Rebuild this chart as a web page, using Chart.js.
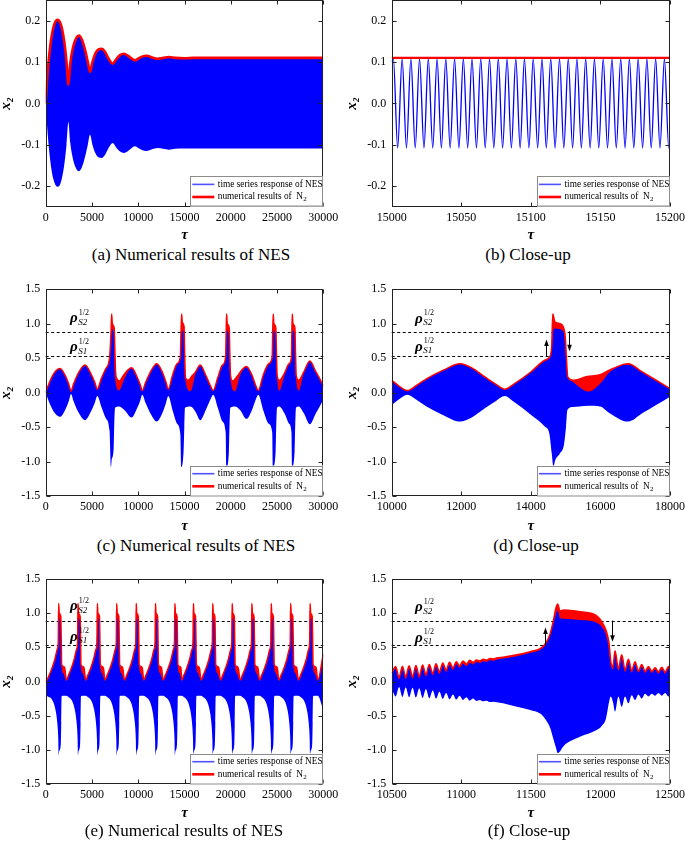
<!DOCTYPE html>
<html lang="en">
<head>
<meta charset="UTF-8">
<title>Numerical results of NES</title>
<script src="https://cdn.jsdelivr.net/npm/chart.js"></script>
<style>
  body { margin: 0; background: #fff; }
  .page { position: relative; width: 685px; height: 843px; overflow: hidden; font-family: "Liberation Serif", "Times New Roman", serif; }
  .panel { position: absolute; }
  .panel canvas { display: block; }
  .caption { position: absolute; font-size: 17px; color: #000; white-space: nowrap; transform: translate(-50%, -50%); }
</style>
</head>
<body>
<div class="page">
  <div class="panel" style="left:0;top:0"><canvas id="chartA" width="340" height="245"></canvas></div>
  <div class="panel" style="left:340px;top:0"><canvas id="chartB" width="345" height="245"></canvas></div>
  <div class="panel" style="left:0;top:280px"><canvas id="chartC" width="340" height="256"></canvas></div>
  <div class="panel" style="left:340px;top:280px"><canvas id="chartD" width="345" height="256"></canvas></div>
  <div class="panel" style="left:0;top:570px"><canvas id="chartE" width="340" height="253"></canvas></div>
  <div class="panel" style="left:340px;top:570px"><canvas id="chartF" width="345" height="253"></canvas></div>

  <div class="caption" style="left:191px;top:255px">(a) Numerical results of NES</div>
  <div class="caption" style="left:528px;top:255px">(b) Close-up</div>
  <div class="caption" style="left:196px;top:546px">(c) Numerical results of NES</div>
  <div class="caption" style="left:536px;top:546px">(d) Close-up</div>
  <div class="caption" style="left:184px;top:831px">(e) Numerical results of NES</div>
  <div class="caption" style="left:529px;top:831px">(f) Close-up</div>
</div>

<script>
// ---------- tick labels ----------
const xTicksLong = [0, 5000, 10000, 15000, 20000, 25000, 30000];
const xTicksB = [15000, 15050, 15100, 15150, 15200];
const xTicksD = [10000, 12000, 14000, 16000, 18000];
const xTicksF = [10500, 11000, 11500, 12000, 12500];
const yTicksSmall = [-0.2, -0.1, 0, 0.1, 0.2];
const yTicksLarge = [-1.5, -1.0, -0.5, 0, 0.5, 1.0, 1.5];

// dashed levels rho_S2^(1/2), rho_S1^(1/2)
const rhoLevels = [0.88, 0.53];

// ---------- (a) envelope of the response, 0..30000 ----------
const aTau = [0, 200, 500, 850, 1260, 1650, 2000, 2250, 2450, 2650, 2950, 3300, 3600, 3950, 4300, 4550, 4790, 5050, 5400, 5750,
  6050, 6400, 6800, 7240, 7600, 8000, 8460, 8900, 9300, 9650, 10000, 10400, 10910, 11500, 12060, 12700, 13320, 14000, 15000, 16000, 30000];
const aTop = [0, 0.07, 0.14, 0.185, 0.202, 0.19, 0.15, 0.10, 0.045, 0.095, 0.135, 0.158, 0.164, 0.152, 0.125, 0.10, 0.076, 0.10, 0.122, 0.131,
  0.132, 0.125, 0.108, 0.096, 0.106, 0.116, 0.12, 0.115, 0.108, 0.104, 0.108, 0.113, 0.115, 0.111, 0.108, 0.11, 0.112, 0.11, 0.109, 0.11, 0.11];
const aBottom = [0, -0.07, -0.14, -0.185, -0.202, -0.19, -0.15, -0.10, -0.045, -0.095, -0.135, -0.158, -0.164, -0.152, -0.125, -0.10, -0.076, -0.10, -0.122, -0.131,
  -0.132, -0.125, -0.108, -0.096, -0.106, -0.116, -0.12, -0.115, -0.108, -0.104, -0.108, -0.113, -0.115, -0.111, -0.108, -0.11, -0.112, -0.11, -0.109, -0.109, -0.109];

// ---------- (b) close-up, turning points of the oscillation ----------
const bPeakTau = [15001.2, 15007.5, 15013.8, 15020.0, 15026.3, 15032.6, 15038.9, 15045.2, 15051.5, 15057.7, 15064.0, 15070.3, 15076.6, 15082.9, 15089.2, 15095.4,
  15101.7, 15108.0, 15114.3, 15120.6, 15126.9, 15133.1, 15139.4, 15145.7, 15152.0, 15158.3, 15164.6, 15170.8, 15177.1, 15183.4, 15189.7, 15196.0];
const bTroughTau = [15004.3, 15010.6, 15016.9, 15023.2, 15029.5, 15035.7, 15042.0, 15048.3, 15054.6, 15060.9, 15067.2, 15073.4, 15079.7, 15086.0, 15092.3, 15098.6,
  15104.9, 15111.1, 15117.4, 15123.7, 15130.0, 15136.3, 15142.6, 15148.8, 15155.1, 15161.4, 15167.7, 15174.0, 15180.3, 15186.5, 15192.8, 15199.1];
const bAmp = 0.108;
const bEdges = [[15000, 0.10], [15200, -0.106]];
const bN2 = [[15000, 0.11], [15200, 0.11]];

// ---------- (c) 0..30000 ----------
const cTau = [0, 500, 1000, 1550, 2100, 2500, 2740, 3000, 3600, 4250, 4900, 5300, 5580,
  6000, 6500, 6900, 7050, 7130, 7350, 7420, 7500, 7920, 8500, 9290,
  9900, 10200, 10440, 10800, 11400, 12000, 12600, 13000, 13250, 13700, 14200,
  14550, 14650, 14900, 14980, 15050, 15650, 16200, 16700, 17300, 17800, 18100,
  18600, 19100, 19450, 19530, 19800, 19870, 19950, 20450, 21000, 21700, 22300, 22700, 22970,
  23500, 24100, 24480, 24560, 24850, 24920, 25000, 25250, 25800, 26300, 26560, 26620, 26900, 26970, 27050, 27350,
  27900, 28550, 29200, 29700, 30000];
const cHi = [0, 0.18, 0.30, 0.35, 0.25, 0.12, 0.02, 0.12, 0.30, 0.40, 0.27, 0.15, 0.05,
  0.20, 0.35, 0.50, 0.80, 0.92, 0.88, 0.50, 0.20, 0.03, 0.20, 0.36,
  0.22, 0.12, 0.03, 0.15, 0.32, 0.42, 0.30, 0.15, 0.05, 0.25, 0.42,
  0.52, 0.90, 0.88, 0.50, 0.22, 0.02, 0.28, 0.40, 0.25, 0.10, 0.03,
  0.22, 0.40, 0.52, 0.90, 0.86, 0.50, 0.22, 0.02, 0.25, 0.38, 0.25, 0.10, 0.03,
  0.25, 0.42, 0.52, 0.90, 0.86, 0.50, 0.22, 0.03, 0.25, 0.42, 0.52, 0.90, 0.86, 0.50, 0.22, 0.03,
  0.30, 0.46, 0.30, 0.18, 0.10];
const cLo = [0, -0.18, -0.30, -0.35, -0.25, -0.12, -0.02, -0.12, -0.30, -0.40, -0.27, -0.15, -0.05,
  -0.20, -0.37, -0.55, -1.08, -0.98, -0.80, -0.40, -0.22, -0.20, -0.25, -0.36,
  -0.22, -0.12, -0.03, -0.15, -0.32, -0.42, -0.30, -0.15, -0.05, -0.25, -0.45,
  -0.60, -1.08, -0.85, -0.50, -0.22, -0.20, -0.28, -0.40, -0.25, -0.10, -0.03,
  -0.22, -0.42, -0.58, -1.08, -0.85, -0.45, -0.22, -0.20, -0.25, -0.38, -0.25, -0.10, -0.03,
  -0.25, -0.45, -0.58, -1.08, -0.85, -0.45, -0.22, -0.20, -0.30, -0.45, -0.58, -1.08, -0.85, -0.45, -0.22, -0.20,
  -0.30, -0.46, -0.30, -0.18, -0.10];
const cRedTau = [0, 500, 1000, 1550, 2100, 2500, 2740, 3000, 3600, 4250, 4900, 5300, 5580,
  6000, 6500, 6900, 7050, 7130, 7200, 7400, 7480, 7550, 7700, 7950, 8400, 8900, 9290,
  9900, 10200, 10440, 10800, 11400, 12000, 12600, 13000, 13250, 13700, 14200,
  14550, 14620, 14690, 14760, 14950, 15030, 15100, 15400, 15800, 16200, 16700, 17300, 17800, 18100,
  18600, 19100, 19450, 19500, 19550, 19620, 19830, 19900, 19970, 20200, 20700, 21200, 21700, 22300, 22700, 22970,
  23500, 24100, 24480, 24530, 24590, 24660, 24870, 24940, 25010, 25250, 25800,
  26300, 26560, 26600, 26650, 26720, 26930, 27000, 27070, 27350, 27900, 28550, 29200, 29700, 30000];
const cRed = [0, 0.18, 0.30, 0.35, 0.25, 0.12, 0.02, 0.12, 0.30, 0.40, 0.27, 0.15, 0.05,
  0.20, 0.35, 0.50, 0.85, 1.14, 1.00, 0.94, 0.60, 0.30, 0.20, 0.17, 0.25, 0.33, 0.36,
  0.22, 0.12, 0.03, 0.15, 0.32, 0.42, 0.30, 0.15, 0.05, 0.25, 0.42,
  0.52, 0.85, 1.14, 1.02, 0.96, 0.50, 0.22, 0.18, 0.24, 0.30, 0.40, 0.25, 0.10, 0.03,
  0.22, 0.40, 0.52, 0.85, 1.14, 1.00, 0.94, 0.55, 0.25, 0.17, 0.24, 0.33, 0.38, 0.25, 0.10, 0.03,
  0.25, 0.42, 0.52, 0.85, 1.14, 1.00, 0.94, 0.55, 0.25, 0.18, 0.28,
  0.42, 0.52, 0.85, 1.14, 1.00, 0.94, 0.55, 0.25, 0.18, 0.30, 0.46, 0.30, 0.18, 0.10];
const cRho = [[2630, 1.02, 'S2'], [2630, 0.60, 'S1']];

// ---------- (d) close-up 10000..18000 ----------
const dTau = [10000, 10200, 10450, 10700, 11000, 11500, 11964, 12300, 12700, 13000, 13250, 13500, 14000, 14400, 14530, 14600,
  14650, 14700, 14840, 14950, 15010, 15050, 15200, 15400, 15650, 15990, 16270, 16660, 16800, 17200, 17600, 18000];
const dHi = [0.18, 0.10, 0.03, 0.10, 0.20, 0.33, 0.42, 0.36, 0.22, 0.12, 0.05, 0.12, 0.30, 0.46, 0.51, 0.67,
  0.91, 0.93, 0.92, 0.86, 0.52, 0.26, 0.16, 0.08, 0.015, 0.13, 0.30, 0.40, 0.41, 0.30, 0.18, 0.06];
const dLo = [-0.18, -0.10, -0.03, -0.10, -0.20, -0.33, -0.42, -0.36, -0.22, -0.12, -0.05, -0.13, -0.32, -0.49, -0.59, -0.88,
  -1.07, -0.98, -0.88, -0.76, -0.50, -0.25, -0.21, -0.20, -0.19, -0.20, -0.30, -0.41, -0.42, -0.30, -0.18, -0.06];
const dRedTau = [10000, 10200, 10450, 10700, 11000, 11500, 11964, 12300, 12700, 13000, 13250, 13500, 14000, 14400, 14530, 14600,
  14630, 14690, 14840, 14950, 14990, 15030, 15060, 15220, 15600, 15990, 16270, 16660, 16800, 17200, 17600, 18000];
const dRed = [0.18, 0.10, 0.03, 0.10, 0.20, 0.33, 0.42, 0.36, 0.22, 0.12, 0.05, 0.12, 0.30, 0.47, 0.51, 0.67,
  1.14, 1.03, 1.00, 0.93, 0.80, 0.43, 0.23, 0.18, 0.23, 0.26, 0.33, 0.41, 0.42, 0.30, 0.18, 0.06];
const dRho = [[10670, 1.016, 'S2'], [10670, 0.605, 'S1']];
const dArrows = [[14436, 0.53, 0.77], [15106, 0.89, 0.60]];

// ---------- (e) 0..30000, repeated jumps ----------
const eSpikeTau = [1400, 3490, 5580, 7670, 9780, 11860, 13960, 15960, 18050, 20150, 22280, 24370, 26470, 28570];
// one jump, offsets relative to the jump
const eOffset = [-1260, -1000, -700, -400, -150, -40, 0, 60, 230, 280, 320, 500, 650];
const eRedShape = [0.02, 0.10, 0.20, 0.33, 0.47, 0.58, 1.14, 1.00, 0.95, 0.60, 0.25, 0.22, 0.20];
const eHiShape = [0.02, 0.10, 0.20, 0.33, 0.47, 0.58, 0.92, 0.92, 0.90, 0.45, 0.20, 0.12, 0.07];
const eLoShape = [-0.21, -0.23, -0.27, -0.38, -0.60, -0.85, -1.08, -1.02, -0.92, -0.60, -0.22, -0.21, -0.21];
const eStart = [0, 0, 0, 0];                       // tau, red, hi, lo
const eEnd = [[29400, 0.02, 0.02, -0.21], [30000, 0.40, 0.40, -0.42]];
const eRho = [[2630, 1.046, 'S2'], [2630, 0.60, 'S1']];

// ---------- (f) close-up 10500..12500 ----------
const fTau = [10500,
  10528, 10553, 10577, 10601, 10625, 10650, 10674, 10698, 10722, 10746,
  10770, 10795, 10819, 10843, 10867, 10891, 10916, 10940, 10964, 10988,
  11012, 11037, 11061, 11085, 11109, 11133, 11158, 11182, 11206, 11230,
  11254,
  11300, 11400, 11495, 11567, 11603, 11639, 11663, 11682, 11693, 11710,
  11733, 11853, 11973, 12009, 12040, 12062, 12074, 12090,
  12105, 12129, 12153, 12177, 12201, 12225, 12249, 12273, 12297, 12321,
  12345, 12369, 12393, 12417, 12441, 12465, 12489, 12500];
const fRed = [0.12,
  0.22, 0.06, 0.225, 0.065, 0.23, 0.07, 0.235, 0.08, 0.24, 0.10,
  0.25, 0.12, 0.26, 0.14, 0.27, 0.17, 0.28, 0.20, 0.29, 0.23,
  0.30, 0.255, 0.31, 0.28, 0.315, 0.30, 0.325, 0.315, 0.335, 0.33,
  0.345,
  0.355, 0.39, 0.436, 0.48, 0.55, 0.70, 0.90, 1.09, 1.134, 1.03,
  1.045, 1.02, 0.96, 0.875, 0.75, 0.56, 0.30, 0.22,
  0.45, 0.19, 0.39, 0.17, 0.325, 0.16, 0.29, 0.155, 0.25, 0.15,
  0.22, 0.15, 0.20, 0.14, 0.21, 0.14, 0.22, 0.20];
const fHi = [0.09,
  0.185, 0.03, 0.19, 0.035, 0.195, 0.04, 0.20, 0.05, 0.205, 0.07,
  0.215, 0.09, 0.225, 0.11, 0.235, 0.14, 0.245, 0.17, 0.255, 0.20,
  0.265, 0.225, 0.275, 0.25, 0.285, 0.27, 0.295, 0.29, 0.31, 0.305,
  0.32,
  0.335, 0.37, 0.42, 0.465, 0.53, 0.68, 0.87, 1.00, 1.04, 0.93,
  0.92, 0.90, 0.86, 0.80, 0.68, 0.46, 0.25, 0.18,
  0.40, 0.16, 0.35, 0.14, 0.29, 0.13, 0.26, 0.13, 0.22, 0.125,
  0.19, 0.125, 0.175, 0.115, 0.18, 0.115, 0.19, 0.17];
const fLo = [-0.10,
  -0.22, -0.08, -0.225, -0.085, -0.23, -0.09, -0.235, -0.10, -0.24, -0.11,
  -0.245, -0.13, -0.25, -0.15, -0.255, -0.17, -0.26, -0.19, -0.265, -0.21,
  -0.27, -0.23, -0.28, -0.25, -0.285, -0.27, -0.29, -0.28, -0.30, -0.295,
  -0.305,
  -0.32, -0.37, -0.417, -0.47, -0.55, -0.68, -0.85, -0.98, -1.05, -1.02,
  -0.95, -0.81, -0.71, -0.65, -0.54, -0.30, -0.22, -0.30,
  -0.44, -0.22, -0.37, -0.22, -0.32, -0.20, -0.27, -0.19, -0.25, -0.18,
  -0.22, -0.18, -0.21, -0.17, -0.21, -0.17, -0.22, -0.20];
const fRho = [[10668, 1.03, 'S2'], [10668, 0.58, 'S1']];
const fArrows = [[11600, 0.53, 0.79], [12086, 0.89, 0.58]];

const NES_LABEL = 'time series response of NES';
const N2_LABEL = 'numerical results of  N₂';

// ---------- helpers ----------
const SERIF = '"Liberation Serif", "Times New Roman", serif';
const BLUE = '#0000ff';
const RED = '#ff0000';

function pts(xs, ys) {
  return xs.map((x, i) => ({ x: x, y: ys[i] }));
}

function spikeTrain(col) {
  // col: 0 red, 1 hi, 2 lo
  const shape = [eRedShape, eHiShape, eLoShape][col];
  const out = [{ x: eStart[0], y: eStart[col + 1] }];
  eSpikeTau.forEach(s => eOffset.forEach((o, i) => out.push({ x: s + o, y: shape[i] })));
  eEnd.forEach(r => out.push({ x: r[0], y: r[col + 1] }));
  return out;
}

function envelopeSets(hi, lo, red, redWidth) {
  return [
    { label: NES_LABEL, data: hi, borderColor: 'rgba(0,0,255,0)', borderWidth: 1, backgroundColor: BLUE, fill: '+1' },
    { data: lo, borderColor: 'rgba(0,0,255,0)', borderWidth: 1, fill: false },
    { label: N2_LABEL, data: red, borderColor: RED, borderWidth: redWidth, backgroundColor: RED, fill: 'origin' }
  ];
}

// text with sub/superscript for the rho labels
function drawRho(ctx, x, y, sub) {
  ctx.fillStyle = '#000';
  ctx.textAlign = 'left';
  ctx.textBaseline = 'alphabetic';
  ctx.font = 'italic bold 15px ' + SERIF;
  ctx.fillText('ρ', x, y);
  const w = ctx.measureText('ρ').width;
  ctx.font = 'italic 9px ' + SERIF;
  ctx.fillText(sub, x + w + 0.5, y + 2.5);
  ctx.font = '8px ' + SERIF;
  ctx.fillText('1/2', x + w + 1, y - 7.5);
}

function drawArrow(ctx, x, y1, y2) {
  const dir = y2 > y1 ? 1 : -1;
  ctx.strokeStyle = '#000';
  ctx.fillStyle = '#000';
  ctx.lineWidth = 1;
  ctx.beginPath();
  ctx.moveTo(x, y1);
  ctx.lineTo(x, y2 - dir * 4);
  ctx.stroke();
  ctx.beginPath();
  ctx.moveTo(x, y2);
  ctx.lineTo(x - 2.3, y2 - dir * 6.5);
  ctx.lineTo(x + 2.3, y2 - dir * 6.5);
  ctx.closePath();
  ctx.fill();
}

function drawLegend(chart) {
  const { ctx, chartArea: a } = chart;
  // NES entry first, then N2
  const items = chart.data.datasets.filter(d => d.label)
    .sort((p, q) => (p.label === NES_LABEL ? 0 : 1) - (q.label === NES_LABEL ? 0 : 1));
  const w = 133, h = 30.5;
  const x0 = a.right - w, y0 = a.bottom - h;
  ctx.fillStyle = '#fff';
  ctx.fillRect(x0, y0, w, h);
  ctx.strokeStyle = '#8c8c8c';
  ctx.lineWidth = 1;
  ctx.strokeRect(Math.round(x0) + 0.5, Math.round(y0) + 0.5, w - 1, h - 1);
  const rowY = [y0 + 8.2, y0 + 20.8];
  items.forEach((d, i) => {
    const isRed = d.label === N2_LABEL;
    ctx.strokeStyle = isRed ? RED : '#5050ff';
    ctx.lineWidth = isRed ? 2.6 : 1.6;
    ctx.beginPath();
    ctx.moveTo(x0 + 2, rowY[i]);
    ctx.lineTo(x0 + 24, rowY[i]);
    ctx.stroke();
    ctx.fillStyle = '#000';
    ctx.textAlign = 'left';
    ctx.textBaseline = 'middle';
    ctx.font = '9.3px ' + SERIF;
    let txt = d.label;
    const sub = txt.endsWith('₂');
    if (sub) txt = txt.slice(0, -1);
    ctx.fillText(txt, x0 + 27.5, rowY[i]);
    if (sub) {
      const tw = ctx.measureText(txt).width;
      ctx.font = '7px ' + SERIF;
      ctx.fillText('2', x0 + 27.5 + tw + 0.3, rowY[i] + 2.5);
    }
  });
}

const panelDecor = {
  id: 'panelDecor',
  beforeDraw(chart, args, opts) {
    const { ctx, chartArea: a, scales: { y } } = chart;
    if (!opts.levels) return;
    ctx.save();
    ctx.strokeStyle = '#000';
    ctx.lineWidth = 1;
    ctx.setLineDash([3, 2.5]);
    opts.levels.forEach(v => {
      const py = Math.round(y.getPixelForValue(v)) + 0.5;
      ctx.beginPath();
      ctx.moveTo(a.left, py);
      ctx.lineTo(a.right, py);
      ctx.stroke();
    });
    ctx.restore();
  },
  afterDraw(chart, args, opts) {
    const { ctx, chartArea: a, scales: { x, y } } = chart;
    ctx.save();
    // frame
    const L = Math.round(a.left) + 0.5, R = Math.round(a.right) - 0.5;
    const T = Math.round(a.top) + 0.5, B = Math.round(a.bottom) - 0.5;
    ctx.strokeStyle = '#222';
    ctx.lineWidth = 1;
    ctx.strokeRect(L, T, R - L, B - T);
    // inward ticks on all four sides
    ctx.beginPath();
    x.ticks.forEach(t => {
      const px = Math.round(x.getPixelForValue(t.value)) + 0.5;
      ctx.moveTo(px, B); ctx.lineTo(px, B - 4);
      ctx.moveTo(px, T); ctx.lineTo(px, T + 4);
    });
    y.ticks.forEach(t => {
      const py = Math.round(y.getPixelForValue(t.value)) + 0.5;
      ctx.moveTo(L, py); ctx.lineTo(L + 4, py);
      ctx.moveTo(R, py); ctx.lineTo(R - 4, py);
    });
    ctx.stroke();
    (opts.arrows || []).forEach(r => {
      const px = Math.round(x.getPixelForValue(r[0])) + 0.5;
      drawArrow(ctx, px, y.getPixelForValue(r[1]), y.getPixelForValue(r[2]));
    });
    (opts.rho || []).forEach(r => drawRho(ctx, x.getPixelForValue(r[0]), y.getPixelForValue(r[1]), r[2]));
    if (opts.legend) drawLegend(chart);
    ctx.restore();
  }
};

const tickFont = { family: SERIF, size: 12 };
const titleFont = { family: SERIF, size: 15, weight: 'bold', style: 'italic', lineHeight: 1 };

function makePanel(id, cfg) {
  return new Chart(document.getElementById(id), {
    type: 'line',
    data: { datasets: cfg.datasets },
    options: {
      responsive: false,
      animation: false,
      parsing: false,
      events: [],
      layout: { padding: { top: cfg.padTop, right: cfg.padRight, left: 0, bottom: 0 } },
      elements: { point: { radius: 0 }, line: { cubicInterpolationMode: 'monotone' } },
      plugins: {
        legend: { display: false },
        tooltip: { enabled: false },
        filler: { drawTime: 'beforeDatasetsDraw' },
        panelDecor: cfg.decor
      },
      scales: {
        x: {
          type: 'linear', min: cfg.xMin, max: cfg.xMax,
          grid: { display: false, drawTicks: false }, border: { display: false },
          afterBuildTicks: s => { s.ticks = cfg.xTicks.map(v => ({ value: v })); },
          afterFit: s => { s.height = cfg.xHeight; s.paddingLeft = 0; s.paddingRight = 0; s.paddingTop = 0; s.paddingBottom = 0; },
          ticks: { autoSkip: false, maxRotation: 0, padding: 3.5, color: '#000', font: tickFont, callback: v => String(v) },
          title: { display: true, text: 'τ', color: '#000', font: titleFont, padding: { top: 0, bottom: 2 } }
        },
        y: {
          type: 'linear', min: cfg.yMin, max: cfg.yMax,
          grid: { display: false, drawTicks: false }, border: { display: false },
          afterBuildTicks: s => { s.ticks = cfg.yTicks.map(v => ({ value: v })); },
          afterFit: s => { s.width = cfg.yWidth; s.paddingLeft = 0; s.paddingRight = 0; s.paddingTop = 0; s.paddingBottom = 0; },
          ticks: { autoSkip: false, padding: 5.5, color: '#000', font: tickFont, callback: v => Number(v).toFixed(1) },
          title: { display: true, text: 'x₂', color: '#000', font: titleFont, padding: { top: cfg.yTitlePad, bottom: 0 } }
        }
      }
    },
    plugins: [panelDecor]
  });
}

const leftCol = { yWidth: 45.7, padRight: 16.7, yTitlePad: -1.5 };
const rightCol = { yWidth: 51.7, padRight: 15, yTitlePad: 4.5 };
const row1 = { padTop: 0, xHeight: 38.3, yMin: -0.25, yMax: 0.25, yTicks: yTicksSmall };
const row2 = { padTop: 9.3, xHeight: 40, yMin: -1.5, yMax: 1.5, yTicks: yTicksLarge };
const row3 = { padTop: 9, xHeight: 39, yMin: -1.5, yMax: 1.5, yTicks: yTicksLarge };

// (a)
makePanel('chartA', Object.assign({}, leftCol, row1, {
  xMin: 0, xMax: 30000, xTicks: xTicksLong,
  datasets: envelopeSets(pts(aTau, aTop), pts(aTau, aBottom), pts(aTau, aTop), 2.6),
  decor: { legend: true }
}));

// (b)
const bPoints = [{ x: bEdges[0][0], y: bEdges[0][1] }]
  .concat(bPeakTau.map(t => ({ x: t, y: bAmp })), bTroughTau.map(t => ({ x: t, y: -bAmp })))
  .concat([{ x: bEdges[1][0], y: bEdges[1][1] }])
  .sort((p, q) => p.x - q.x);
makePanel('chartB', Object.assign({}, rightCol, row1, {
  xMin: 15000, xMax: 15200, xTicks: xTicksB,
  datasets: [
    { label: N2_LABEL, data: bN2.map(r => ({ x: r[0], y: r[1] })), borderColor: RED, borderWidth: 2.4, fill: false },
    { label: NES_LABEL, data: bPoints, borderColor: BLUE, borderWidth: 1.3, fill: false }
  ],
  decor: { legend: true }
}));

// (c)
makePanel('chartC', Object.assign({}, leftCol, row2, {
  xMin: 0, xMax: 30000, xTicks: xTicksLong,
  datasets: envelopeSets(pts(cTau, cHi), pts(cTau, cLo), pts(cRedTau, cRed), 1.5),
  decor: { levels: rhoLevels, rho: cRho, legend: true }
}));

// (d)
makePanel('chartD', Object.assign({}, rightCol, row2, {
  xMin: 10000, xMax: 18000, xTicks: xTicksD,
  datasets: envelopeSets(pts(dTau, dHi), pts(dTau, dLo), pts(dRedTau, dRed), 1.5),
  decor: { levels: rhoLevels, rho: dRho, arrows: dArrows, legend: true }
}));

// (e)
makePanel('chartE', Object.assign({}, leftCol, row3, {
  xMin: 0, xMax: 30000, xTicks: xTicksLong,
  datasets: envelopeSets(spikeTrain(1), spikeTrain(2), spikeTrain(0), 1.5),
  decor: { levels: rhoLevels, rho: eRho, legend: true }
}));

// (f)
makePanel('chartF', Object.assign({}, rightCol, row3, {
  xMin: 10500, xMax: 12500, xTicks: xTicksF,
  datasets: envelopeSets(pts(fTau, fHi), pts(fTau, fLo), pts(fTau, fRed), 1.5),
  decor: { levels: rhoLevels, rho: fRho, arrows: fArrows, legend: true }
}));
</script>
</body>
</html>
